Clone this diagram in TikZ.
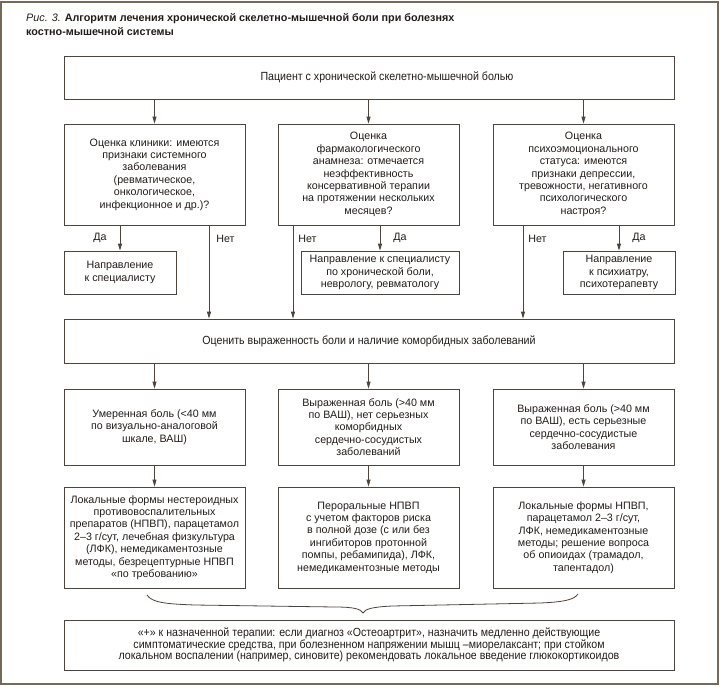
\documentclass[tikz,border=0pt]{standalone}
\usepackage{fontspec}
\setmainfont{Liberation Sans}
\newfontfamily\narrowfont[FakeStretch=0.9]{Liberation Sans}
\usetikzlibrary{arrows.meta}
\definecolor{framegray}{HTML}{736A5C}
\definecolor{linebrown}{HTML}{4E443B}
\definecolor{inkbrown}{HTML}{221C18}
\begin{document}
\begin{tikzpicture}[x=1pt,y=-1pt,
    box/.style={draw=linebrown,line width=0.8pt,align=center,inner sep=0pt,
        text=inkbrown,font=\fontsize{10.7}{12.4}\selectfont},
    widebox/.style={box,minimum width=610pt,font=\narrowfont\fontsize{11.8}{12}\selectfont},
    colbox/.style={box,minimum width=181pt},
    arr/.style={draw=linebrown,line width=0.8pt,-{Triangle[length=7pt,width=4pt]}},
    lbl/.style={text=inkbrown,inner sep=0pt,font=\fontsize{10.7}{12}\selectfont}]
    \useasboundingbox (0,0) rectangle (720,686);
    \draw[framegray,line width=2pt] (1,2) rectangle (718,684);
    \node[anchor=west,align=left,inner sep=0pt,text=inkbrown,font=\fontsize{10.8}{14}\selectfont] (title) at (26,25)
        {\textit{Рис. 3.} \textbf{Алгоритм лечения хронической скелетно-мышечной боли при болезнях}\\
        \textbf{костно-мышечной системы}};

    \node[widebox,minimum height=43pt] (patient) at (369,77.5) {\hspace*{36pt}Пациент с хронической скелетно-мышечной болью};

    \node[colbox,minimum height=101pt] (clinic) at (154.5,174.5) {Оценка клиники: имеются\\признаки системного\\заболевания\\(ревматическое,\\онкологическое,\\инфекционное и др.)?};
    \node[colbox,minimum height=101pt] (pharm) at (368.5,174.5) {Оценка\\фармакологического\\анамнеза: отмечается\\неэффективность\\консервативной терапии\\на протяжении нескольких\\месяцев?};
    \node[colbox,minimum height=101pt] (psych) at (583.5,174.5) {Оценка\\психоэмоционального\\статуса: имеются\\признаки депрессии,\\тревожности, негативного\\психологического\\настроя?};

    \node[box,minimum width=112pt,minimum height=43pt] (toSpec) at (120,272.5) {Направление\\к специалисту};
    \node[box,minimum width=158pt,minimum height=43pt] (toPain) at (380,272.5) {Направление к специалисту\\по хронической боли,\\неврологу, ревматологу};
    \node[box,minimum width=112pt,minimum height=43pt] (toPsych) at (619,272.5) {Направление\\к психиатру,\\психотерапевту};

    \node[widebox,minimum height=44pt] (severity) at (369,341) {Оценить выраженность боли и наличие коморбидных заболеваний};

    \node[colbox,minimum height=76pt] (mild) at (154.5,427) {Умеренная боль (<40 мм\\по визуально-аналоговой\\шкале, ВАШ)};
    \node[colbox,minimum height=76pt] (severeNoCV) at (368.5,427) {Выраженная боль (>40 мм\\по ВАШ), нет серьезных\\коморбидных\\сердечно-сосудистых\\заболеваний};
    \node[colbox,minimum height=76pt] (severeCV) at (583.5,427) {Выраженная боль (>40 мм\\по ВАШ), есть серьезные\\сердечно-сосудистые\\заболевания};

    \node[colbox,minimum height=101pt] (treatMild) at (154.5,537.5) {Локальные формы нестероидных\\противовоспалительных\\препаратов (НПВП), парацетамол\\2–3 г/сут, лечебная физкультура\\(ЛФК), немедикаментозные\\методы, безрецептурные НПВП\\«по требованию»};
    \node[colbox,minimum height=101pt] (treatNoCV) at (368.5,537.5) {Пероральные НПВП\\с учетом факторов риска\\в полной дозе (с или без\\ингибиторов протонной\\помпы, ребамипида), ЛФК,\\немедикаментозные методы};
    \node[colbox,minimum height=101pt] (treatCV) at (583.5,537.5) {Локальные формы НПВП,\\парацетамол 2–3 г/сут,\\ЛФК, немедикаментозные\\методы; решение вопроса\\об опиоидах (трамадол,\\тапентадол)};

    \node[widebox,minimum height=50pt,font=\narrowfont\fontsize{11.8}{11.7}\selectfont] (extra) at (369,645) {«+» к назначенной терапии: если диагноз «Остеоартрит», назначить медленно действующие\\симптоматические средства, при болезненном напряжении мышц –миорелаксант; при стойком\\локальном воспалении (например, синовите) рекомендовать локальное введение глюкокортикоидов};

    \draw[arr] (patient.south -| clinic.north) -- (clinic.north);
    \draw[arr] (patient.south -| pharm.north) -- (pharm.north);
    \draw[arr] (patient.south -| psych.north) -- (psych.north);

    \draw[arr] (toSpec.north |- clinic.south) -- node[lbl,left=13pt] {Да} (toSpec.north);
    \draw[arr] (toPain.north |- pharm.south) -- node[lbl,right=13pt] {Да} (toPain.north);
    \draw[arr] (toPsych.north |- psych.south) -- node[lbl,right=13pt] {Да} (toPsych.north);

    \draw[arr] ([xshift=54.5pt]clinic.south) -- node[lbl,pos=0.14,anchor=west,xshift=7pt] {Нет} ([xshift=54.5pt]clinic.south |- severity.north);
    \draw[arr] ([xshift=-75.5pt]pharm.south) -- node[lbl,pos=0.14,anchor=west,xshift=5pt] {Нет} ([xshift=-75.5pt]pharm.south |- severity.north);
    \draw[arr] ([xshift=-60.5pt]psych.south) -- node[lbl,pos=0.14,anchor=west,xshift=5pt] {Нет} ([xshift=-60.5pt]psych.south |- severity.north);

    \draw[arr] (severity.south -| mild.north) -- (mild.north);
    \draw[arr] (severity.south -| severeNoCV.north) -- (severeNoCV.north);
    \draw[arr] (severity.south -| severeCV.north) -- (severeCV.north);

    \draw[arr] (mild) -- (treatMild);
    \draw[arr] (severeNoCV) -- (treatNoCV);
    \draw[arr] (severeCV) -- (treatCV);

    \coordinate (braceL) at (147,595);
    \coordinate (braceR) at (578,594);
    \coordinate (braceTip) at (363,613);
    \draw[linebrown,line width=0.8pt] (braceL) .. controls (152,603) and (168,604) .. (195,605)
        -- (335,607) .. controls (354,607) and (361,609) .. (braceTip)
        .. controls (365,609) and (372,607) .. (392,606)
        -- (540,603) .. controls (563,602) and (574,600) .. (braceR);
\end{tikzpicture}
\end{document}
